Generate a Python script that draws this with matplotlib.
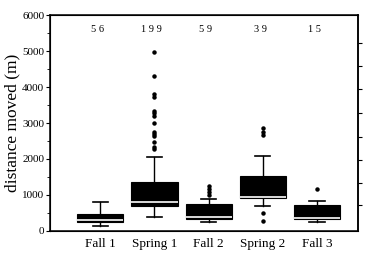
import matplotlib
matplotlib.use("Agg")
import matplotlib.pyplot as plt
import matplotlib.ticker as mticker

# ---------------------------------------------------------------------------
# Data
# ---------------------------------------------------------------------------

groups = ["Fall 1", "Spring 1", "Fall 2", "Spring 2", "Fall 3"]
counts = [56, 199, 59, 39, 15]

q1 = [240, 700, 330, 910, 330]
med = [300, 800, 400, 940, 350]
q3 = [460, 1370, 740, 1540, 720]
whislo = [150, 400, 240, 690, 260]
whishi = [800, 2060, 880, 2080, 830]

fliers = [
    [],
    [4980, 4300, 3800, 3730, 3340, 3270, 3190, 3010, 2760, 2690, 2640, 2480, 2340, 2280],
    [1260, 1170, 1075, 1000],
    [2850, 2760, 2670, 500, 270],
    [1160],
]

right_ticks = [720, 1330, 1970, 2610, 3280, 3940, 4580, 5220]

SERIF = ["Liberation Serif", "DejaVu Serif"]
plt.rcParams["font.family"] = SERIF

stats = []
for i, g in enumerate(groups):
    stats.append(dict(label=g, med=med[i], q1=q1[i], q3=q3[i],
                      whislo=whislo[i], whishi=whishi[i], fliers=fliers[i]))

fig = plt.figure(figsize=(3.67, 2.56), dpi=100)
ax = fig.add_axes([0.136, 0.098, 0.84, 0.843])

positions = list(range(1, len(groups) + 1))
ax.bxp(
    stats, positions=positions, widths=0.85, patch_artist=True,
    boxprops=dict(facecolor="black", edgecolor="black", linewidth=0.8),
    medianprops=dict(color="white", linewidth=1.2),
    whiskerprops=dict(color="black", linewidth=1.0),
    capprops=dict(color="black", linewidth=1.2),
    flierprops=dict(marker="o", markersize=2.2, markerfacecolor="black",
                    markeredgecolor="black", linestyle="none"),
    capwidths=0.28,
)

# sample sizes along the top, digits slightly spaced as in the print
for p, n in zip(positions, counts):
    ax.text(p - 0.05, 5600, " ".join(str(n)), ha="center", va="center", fontsize=7.5)

ax.set_xlim(0.07, 5.76)
ax.set_ylim(0, 6000)
ax.yaxis.set_major_locator(mticker.MultipleLocator(1000))
ax.yaxis.set_minor_locator(mticker.MultipleLocator(500))
ax.tick_params(axis="y", which="major", direction="out", length=3, labelsize=8, pad=1)
ax.tick_params(axis="y", which="minor", direction="out", length=2)
ax.tick_params(axis="x", length=0, labelsize=9.5, pad=5)
ax.set_ylabel("distance moved (m)", fontsize=12.5, labelpad=1)

for s in ax.spines.values():
    s.set_linewidth(1.1)

ax2 = ax.twinx()
ax2.set_ylim(0, 6000)
ax2.set_yticks(right_ticks)
ax2.tick_params(axis="y", direction="out", length=3, labelright=False)
ax2.spines["right"].set_linewidth(1.1)

fig.savefig("out.png", dpi=100)
